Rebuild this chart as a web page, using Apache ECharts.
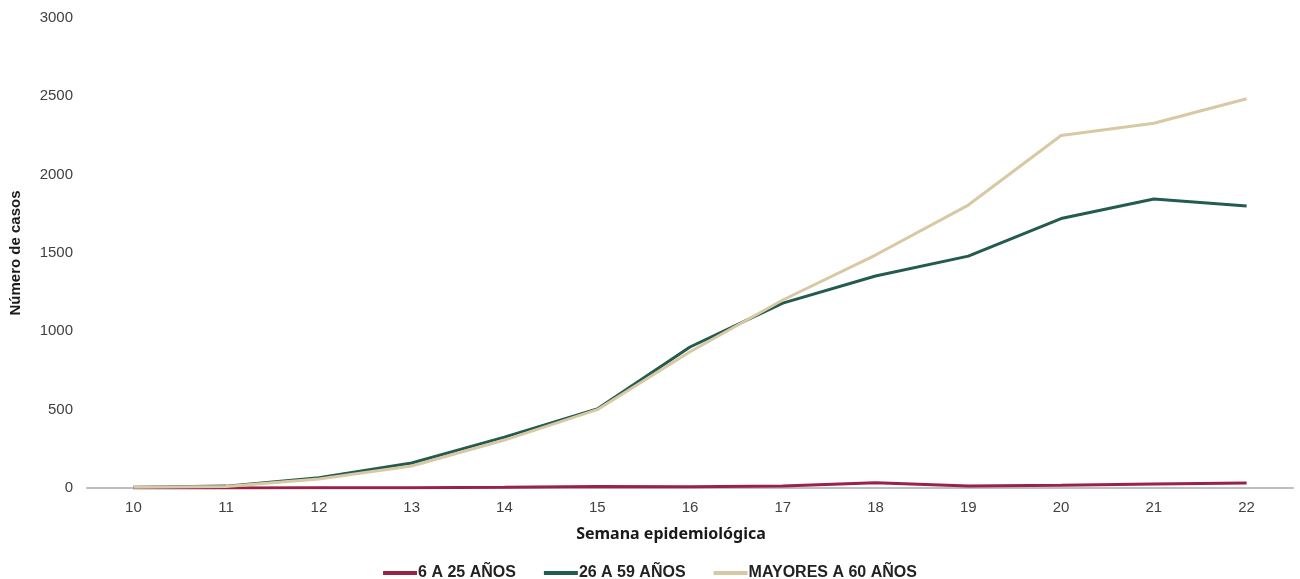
<!DOCTYPE html>
<html>
<head>
<meta charset="utf-8">
<script src="https://cdn.jsdelivr.net/npm/echarts@6/dist/echarts.min.js"></script>
<style>
  html, body { margin: 0; padding: 0; background: #fff; }
  #chart { width: 1300px; height: 579px; }
</style>
</head>
<body>
<div id="chart"></div>
<script>
// Semanas epidemiológicas
const semanas = ['10', '11', '12', '13', '14', '15', '16', '17', '18', '19', '20', '21', '22'];

// Casos por grupo de edad
const casos6a25 = [0, 0, 1, 2, 5, 10, 8, 12, 33, 13, 18, 26, 32];
const casos26a59 = [5, 12, 65, 160, 325, 505, 900, 1180, 1353, 1480, 1720, 1845, 1800];
const casosMayores60 = [5, 10, 58, 140, 306, 500, 870, 1200, 1487, 1806, 2250, 2328, 2485];

const nombres = ['6 A 25 AÑOS', '26 A 59 AÑOS', 'MAYORES A 60 AÑOS'];
const colores = ['#9B2247', '#235B4E', '#D8C8A4'];

const chart = echarts.init(document.getElementById('chart'));

const font = '"Liberation Sans", Arial, sans-serif';

function serie(nombre, datos, color) {
  return {
    name: nombre,
    type: 'line',
    data: datos,
    symbol: 'none',
    smooth: false,
    lineStyle: { color: color, width: 3 },
    itemStyle: { color: color }
  };
}

chart.setOption({
  animation: false,
  backgroundColor: '#ffffff',
  color: colores,
  grid: { left: 85, right: 7, top: 18, bottom: 91, containLabel: false },
  legend: {
    top: 560,
    left: 'center',
    itemWidth: 34,
    itemHeight: 4,
    itemGap: 28,
    icon: 'rect',
    textStyle: { fontFamily: font, fontWeight: 'bold', fontSize: 16, color: '#222', padding: [0, 0, 0, -4] },
    data: nombres
  },
  xAxis: {
    type: 'category',
    data: semanas,
    boundaryGap: true,
    name: 'Semana epidemiológica',
    nameLocation: 'middle',
    nameGap: 38,
    nameTextStyle: { fontFamily: '"Noto Sans", sans-serif', fontWeight: 'bold', fontSize: 16, color: '#1a1a1a', padding: [0, 38, 0, 0] },
    axisLine: { lineStyle: { color: '#BFBFBF', width: 2 } },
    axisTick: { show: false },
    axisLabel: { fontFamily: font, fontSize: 15, color: '#404040', margin: 12 },
    splitLine: { show: false }
  },
  yAxis: {
    type: 'value',
    min: 0,
    max: 3000,
    interval: 500,
    name: 'Número de casos',
    nameLocation: 'middle',
    nameGap: 64,
    nameTextStyle: { fontFamily: font, fontWeight: 'bold', fontSize: 15, color: '#1a1a1a' },
    axisLine: { show: false },
    axisTick: { show: false },
    axisLabel: { fontFamily: font, fontSize: 15, color: '#404040', margin: 14, formatter: (v) => String(v) },
    splitLine: { show: false }
  },
  series: [
    serie(nombres[0], casos6a25, colores[0]),
    serie(nombres[1], casos26a59, colores[1]),
    serie(nombres[2], casosMayores60, colores[2])
  ]
});
</script>
</body>
</html>
